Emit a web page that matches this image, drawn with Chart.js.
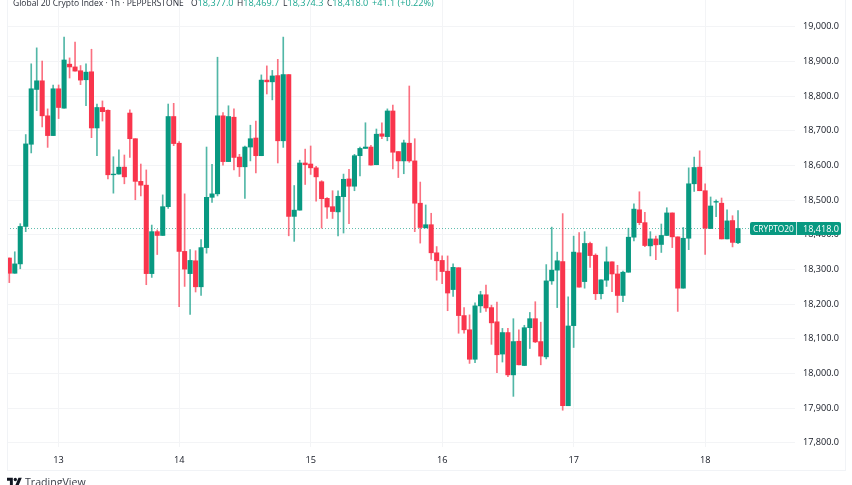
<!DOCTYPE html>
<html>
<head>
<meta charset="utf-8">
<title>Global 20 Crypto Index</title>
<script src="https://cdn.jsdelivr.net/npm/chart.js@4/dist/chart.umd.min.js"></script>
<style>
	html, body { margin: 0; padding: 0; background: #fff; overflow: hidden; }
	#wrap { position: relative; width: 852px; height: 485px; overflow: hidden; font-family: "Open Sans", sans-serif; }
	#chart { position: absolute; left: 0; top: 0; }
	#frame { position: absolute; left: 7px; top: -2px; width: 837px; height: 471px; border: 1px solid #f1f3f6; pointer-events: none; }
	.head { position: absolute; top: -4px; font-size: 8.5px; line-height: 13px; color: #2a2e39; white-space: nowrap; }
	.val { font-size: 9.1px; }
	.up { color: #1aa68f; }
	#tag { position: absolute; left: 750px; width: 91px; height: 13px; border-radius: 2px; background: #089981; color: #fff; font-size: 9.1px; line-height: 13px; }
	#tag span { position: absolute; top: 0; }
	#tag i { position: absolute; left: 46px; top: 0; width: 1px; height: 13px; background: #bfe5df; }
	#logo { position: absolute; left: 7px; top: 476px; }
	#brand { position: absolute; left: 25px; top: 475px; font-size: 10.6px; line-height: 14px; color: #3a3e48; }
</style>
</head>
<body>
<div id="wrap">
	<canvas id="chart" width="852" height="485"></canvas>
	<div id="frame"></div>

	<div class="head" style="left:13px">Global 20 Crypto Index · 1h · PEPPERSTONE</div>
	<div class="head" style="left:191px">O<span class="up val">18,377.0</span></div>
	<div class="head" style="left:237px">H<span class="up val">18,469.7</span></div>
	<div class="head" style="left:283px">L<span class="up val">18,374.3</span></div>
	<div class="head" style="left:327px">C<span class="up val">18,418.0</span></div>
	<div class="head up val" style="left:372px">+41.1 (+0.22%)</div>

	<div id="tag"><span style="left:3px;font-size:8.4px">CRYPTO20</span><i></i><span style="left:53px">18,418.0</span></div>

	<svg id="logo" width="15" height="12" viewBox="0 0 36 28"><path d="M14 22H7V11H0V4h14v18zM28 22h-8l7.5-18h8L28 22z" fill="#131722"/><circle cx="20" cy="8" r="4" fill="#131722"/></svg>
	<div id="brand">TradingView</div>
</div>

<script>
// Candles (one hour each)
const opens = [18333,18289,18316,18424,18661,18819,18844,18743,18686,18821,18765,18892,18884,18873,18847,18870,18708,18767,18759,18573,18575,18595,18751,18677,18554,18543,18288,18409,18398,18481,18741,18664,18352,18288,18325,18250,18363,18508,18518,18743,18611,18739,18624,18596,18653,18679,18628,18846,18841,18859,18671,18862,18453,18471,18607,18604,18593,18553,18505,18481,18466,18510,18561,18540,18628,18649,18653,18602,18691,18683,18757,18640,18613,18664,18613,18491,18420,18429,18348,18326,18295,18242,18305,18167,18126,18041,18195,18227,18190,18149,18056,18118,17996,18093,18023,18132,18158,18092,18048,18267,18298,18323,17907,18138,18348,18265,18375,18341,18230,18269,18322,18287,18225,18292,18393,18472,18435,18368,18388,18372,18398,18463,18394,18246,18390,18547,18595,18527,18418,18494,18491,18388,18441,18377]
const highs = [18333,18351,18432,18689,18893,18939,18901,18763,18832,18832,18970,18910,18956,18888,18893,18935,18777,18786,18760,18625,18645,18630,18760,18677,18604,18587,18428,18414,18515,18777,18779,18669,18518,18357,18354,18386,18653,18603,18912,18752,18772,18763,18632,18656,18716,18728,18861,18887,18874,18906,18970,18862,18542,18615,18647,18656,18597,18556,18507,18527,18527,18575,18589,18632,18653,18723,18658,18705,18723,18763,18774,18640,18673,18829,18677,18552,18486,18462,18366,18339,18339,18316,18305,18190,18169,18204,18237,18255,18197,18206,18130,18130,18158,18126,18139,18176,18207,18148,18314,18422,18350,18461,18221,18396,18406,18409,18379,18345,18270,18365,18322,18312,18295,18419,18489,18524,18465,18409,18396,18431,18478,18463,18394,18421,18593,18624,18642,18547,18509,18501,18506,18472,18455,18469.7]
const lows = [18262,18289,18302,18409,18636,18758,18711,18652,18686,18735,18765,18852,18872,18833,18772,18680,18628,18728,18561,18520,18575,18547,18623,18501,18512,18256,18277,18343,18398,18476,18657,18193,18251,18170,18235,18225,18347,18493,18512,18601,18611,18587,18568,18505,18613,18578,18628,18806,18789,18607,18652,18397,18381,18471,18545,18574,18497,18419,18447,18447,18397,18405,18432,18527,18570,18649,18601,18602,18677,18671,18590,18565,18576,18609,18409,18376,18420,18329,18269,18259,18181,18222,18116,18116,18029,18031,18176,18179,18084,18002,18033,17991,17934,18025,18023,18072,18089,18025,18042,18257,18190,17894,17907,18075,18249,18246,18306,18213,18215,18251,18236,18176,18207,18292,18382,18429,18366,18339,18328,18349,18398,18363,18179,18246,18357,18525,18527,18343,18418,18452,18388,18388,18365,18374.3]
const closes = [18289,18316,18424,18662,18821,18844,18743,18686,18821,18767,18904,18884,18872,18846,18869,18708,18767,18755,18573,18575,18595,18567,18677,18554,18543,18288,18409,18398,18481,18741,18663,18352,18301,18326,18250,18363,18508,18518,18743,18611,18741,18623,18596,18653,18677,18628,18846,18841,18858,18671,18862,18453,18471,18607,18602,18593,18567,18504,18480,18467,18511,18560,18540,18628,18649,18653,18601,18690,18684,18757,18638,18613,18665,18613,18491,18421,18429,18348,18325,18294,18232,18306,18167,18126,18041,18195,18227,18189,18146,18054,18118,17996,18092,18025,18132,18158,18091,18050,18267,18298,18325,17907,18137,18350,18249,18375,18340,18230,18270,18322,18287,18225,18292,18393,18474,18435,18369,18388,18371,18398,18463,18394,18246,18390,18547,18594,18527,18419,18483,18496,18388,18440,18378,18418]

// Time axis, candle number where each day starts
const dayIndexes = [9, 31, 55, 79, 103, 127]
const dayLabels = ['13', '14', '15', '16', '17', '18']

// Price axis
const priceTicks = [17800,17900,18000,18100,18200,18300,18400,18500,18600,18700,18800,18900,19000]
const lastPrice = 18418

const upColor = '#089981'
const downColor = '#f9354c'
const upWick = 'rgba(8,153,129,0.7)'
const downWick = 'rgba(249,53,76,0.7)'
const gridColor = '#f3f4f6'
const fontName = '"Open Sans", sans-serif'

const bodyColors = opens.map((o, i) => closes[i] >= o ? upColor : downColor)
const wickColors = opens.map((o, i) => closes[i] >= o ? upWick : downWick)

// Dotted last price line, it sits behind the candles
const lastPriceLine = {
	id: 'lastPriceLine',
	beforeDatasetsDraw(chart) {
		const y = chart.scales.y.getPixelForValue(lastPrice)
		const ctx = chart.ctx
		ctx.save()
		ctx.strokeStyle = upColor
		ctx.globalAlpha = 0.65
		ctx.lineWidth = 1
		ctx.setLineDash([1, 2])
		ctx.beginPath()
		ctx.moveTo(chart.chartArea.left, y)
		ctx.lineTo(chart.chartArea.right, y)
		ctx.stroke()
		ctx.restore()
		document.getElementById('tag').style.top = (y - 6.5) + 'px'
	}
}

new Chart(document.getElementById('chart'), {
	type: 'bar',
	data: {
		datasets: [
			{
				// Wicks
				data: opens.map((o, i) => ({ x: i, y: [lows[i], highs[i]] })),
				backgroundColor: wickColors,
				barThickness: 1,
				order: 2
			},
			{
				// Bodies
				data: opens.map((o, i) => ({ x: i, y: [o, closes[i]] })),
				backgroundColor: bodyColors,
				barThickness: 4.4,
				order: 1
			}
		]
	},
	options: {
		responsive: false,
		animation: false,
		devicePixelRatio: 1,
		layout: { padding: { left: 7, right: 0, top: 0, bottom: 16 } },
		plugins: { legend: { display: false }, tooltip: { enabled: false } },
		datasets: { bar: { grouped: false } },
		scales: {
			x: {
				type: 'linear',
				offset: false,
				min: -0.42,
				max: 143.4,
				border: { display: false },
				grid: { color: gridColor, drawTicks: false, offset: false },
				afterBuildTicks(axis) { axis.ticks = dayIndexes.map(v => ({ value: v })) },
				afterFit(axis) {
					axis.height = 22
					axis.paddingLeft = 0
					axis.paddingRight = 0
				},
				ticks: {
					autoSkip: false,
					maxRotation: 0,
					padding: 8,
					color: '#131722',
					font: { family: fontName, size: 9.2 },
					callback: v => dayLabels[dayIndexes.indexOf(v)]
				}
			},
			y: {
				position: 'right',
				min: 17788,
				max: 19077,
				border: { display: false },
				grid: { color: gridColor, drawTicks: false },
				afterBuildTicks(axis) { axis.ticks = priceTicks.map(v => ({ value: v })) },
				afterFit(axis) {
					axis.width = 57
					axis.paddingTop = 0
					axis.paddingBottom = 0
				},
				ticks: {
					padding: 8,
					color: '#131722',
					font: { family: fontName, size: 9.1 },
					callback: v => v.toLocaleString('en-US', { minimumFractionDigits: 1, maximumFractionDigits: 1 })
				}
			}
		}
	},
	plugins: [lastPriceLine]
})
</script>
</body>
</html>
